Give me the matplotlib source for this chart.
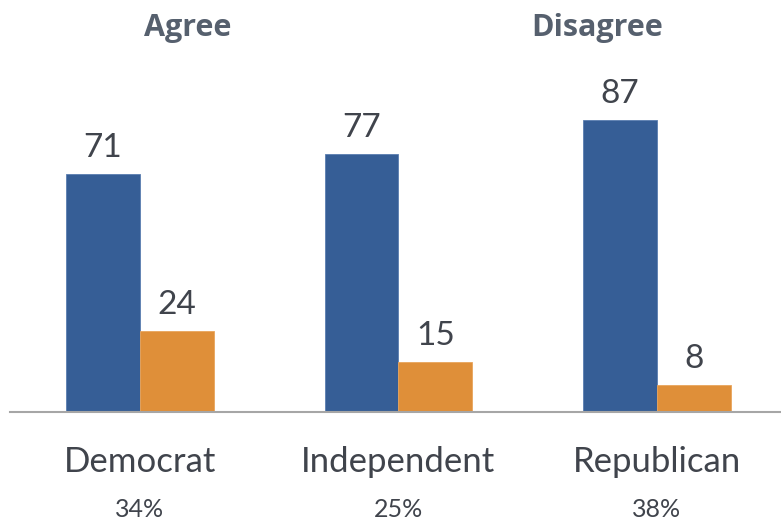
import matplotlib
matplotlib.use("Agg")
import matplotlib.pyplot as plt
import numpy as np

# data
parties = ["Democrat", "Independent", "Republican"]
shares = ["34%", "25%", "38%"]
agree = [71, 77, 87]
disagree = [24, 15, 8]

blue = "#365E96"
orange = "#DF8F39"
text_col = "#40444c"
title_col = "#56606e"

fig = plt.figure(figsize=(7.81, 5.24), dpi=100)
ax = fig.add_axes([10 / 781, 112 / 524, 771 / 781, 412 / 524])

x = np.arange(len(parties))
w = 0.286
b1 = ax.bar(x - w / 2, agree, w, color=blue, edgecolor="#5a7db0", linewidth=0.6)
b2 = ax.bar(x + w / 2, disagree, w, color=orange, edgecolor="#e9a55c", linewidth=0.6)

for bars in (b1, b2):
    for bar in bars:
        ax.annotate(f"{bar.get_height():g}",
                    (bar.get_x() + bar.get_width() / 2, bar.get_height()),
                    xytext=(0, 8), textcoords="offset points",
                    ha="center", va="bottom", fontsize=24,
                    family="Lato", color=text_col)

ax.set_xlim(-0.503, 2.48)
ax.set_ylim(0, 122.8)
ax.set_yticks([])
ax.set_xticks([])
for s in ["top", "right", "left"]:
    ax.spines[s].set_visible(False)
ax.spines["bottom"].set_color("#a6a6a6")
ax.spines["bottom"].set_linewidth(1.5)
ax.patch.set_alpha(0)

# category labels and share of respondents
for i, (p, s) in enumerate(zip(parties, shares)):
    ax.annotate(p, (i, 0), xytext=(0, -36), textcoords="offset points",
                ha="center", va="center", fontsize=25, family="Lato",
                color=text_col)
    ax.annotate(s, (i, 0), xytext=(0, -70), textcoords="offset points",
                ha="center", va="center", fontsize=18, family="Lato",
                color=text_col)

# legend entries drawn as plain text
fig.text(188 / 781, 1 - 28 / 524, "Agree", ha="center", va="center",
         fontsize=22, fontweight="bold", family="Open Sans", color=title_col)
fig.text(597 / 781, 1 - 28 / 524, "Disagree", ha="center", va="center",
         fontsize=22, fontweight="bold", family="Open Sans", color=title_col)

fig.savefig("out.png", dpi=100, facecolor="white")
